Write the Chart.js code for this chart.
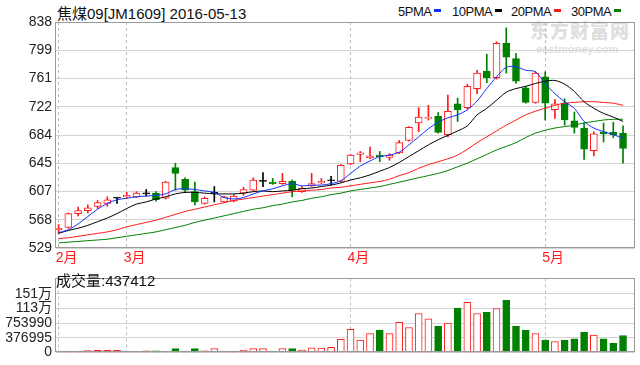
<!DOCTYPE html>
<html lang="zh">
<head>
<meta charset="UTF-8">
<title>焦煤09 日K线</title>
<script src="https://cdn.jsdelivr.net/npm/chart.js@4.4.1/dist/chart.umd.min.js"></script>
<style>
  body {
    margin: 0;
    width: 640px;
    height: 365px;
    overflow: hidden;
    position: relative;
    background: #fff;
    font-family: 'Liberation Sans', 'Noto Sans CJK SC', sans-serif;
    color: #111;
  }
  #kline { position: absolute; left: 0; top: 0; }
  #vol { position: absolute; left: 0; top: 266px; }
  .title { position: absolute; left: 57px; top: 2px; font-size: 15px; white-space: nowrap; }
  .leg { position: absolute; top: 4px; font-size: 13px; letter-spacing: -0.5px; white-space: nowrap; }
  .leg i { display: inline-block; width: 7px; height: 3px; margin-left: 3px; vertical-align: 4px; }
  .vol-label { position: absolute; left: 56px; top: 269px; font-size: 15px; white-space: nowrap; }
  .mark { position: absolute; left: 530px; top: 22px; color: rgba(160,160,160,0.35); font-weight: bold; line-height: 1; }
  .mark b { display: block; font-size: 19px; letter-spacing: 1px; }
  .mark span { display: block; font-size: 11px; margin-top: 3px; margin-left: 6px; }
</style>
</head>
<body>
  <div class="title">焦煤09[JM1609] 2016-05-13</div>
  <div class="leg" style="left:398px">5PMA<i style="background:#1030ff"></i></div>
  <div class="leg" style="left:452px">10PMA<i style="background:#000"></i></div>
  <div class="leg" style="left:511px">20PMA<i style="background:#ff1a1a"></i></div>
  <div class="leg" style="left:571px">30PMA<i style="background:#008000"></i></div>
  <div class="mark"><b>东方财富网</b><span>eastmoney.com</span></div>

  <canvas id="kline" width="640" height="266"></canvas>
  <canvas id="vol" width="640" height="99"></canvas>
  <div class="vol-label">成交量:437412</div>

<script>
// 交易日
const dates = [
  '02-19','02-22','02-23','02-24','02-25','02-26','02-29',
  '03-01','03-02','03-03','03-04','03-07','03-08','03-09','03-10','03-11','03-14','03-15','03-16',
  '03-17','03-18','03-21','03-22','03-23','03-24','03-25','03-28','03-29','03-30','03-31',
  '04-01','04-05','04-06','04-07','04-08','04-11','04-12','04-13','04-14','04-15','04-18','04-19',
  '04-20','04-21','04-22','04-25','04-26','04-27','04-28','04-29',
  '05-03','05-04','05-05','05-06','05-09','05-10','05-11','05-12','05-13'
];

// K线数据
const opens  = [554,557,576,580,586,590,597,599,599,603,604,597,639,623,606,590,604,592,593,604,
                608,620,619,617,620,606,614,618,621,620,644,657,652,656,653,659,676,700,706,709,
                684,726,721,747,771,762,809,788,748,728,763,718,727,703,693,662,688,687,686];
const highs  = [561,577,585,588,594,599,598,605,606,609,606,620,645,625,619,599,613,600,602,612,
                625,632,624,631,622,613,631,624,627,643,657,661,667,661,658,676,695,721,724,714,
                738,734,753,772,794,811,830,795,750,770,770,732,733,715,700,688,700,701,696];
const lows   = [549,556,573,577,583,586,590,597,598,600,593,596,608,605,588,589,592,591,592,601,
                607,613,616,616,599,605,613,617,615,619,643,647,651,647,649,658,675,688,704,686,
                681,702,719,740,755,760,768,754,727,727,704,706,697,686,650,655,674,680,645];
const closes = [556,576,580,584,591,595,597,601,604,603,595,619,631,608,592,597,604,599,600,609,
                622,620,617,620,608,611,617,620,621,642,656,659,655,654,656,673,694,708,708,687,
                716,718,750,768,762,809,790,757,728,768,727,726,704,694,664,685,685,684,665];

// 成交量
const volumes = [40000,40000,40000,50000,55000,55000,55000,30000,30000,45000,
                 45000,30000,100000,40000,100000,45000,100000,40000,40000,65000,
                 100000,100000,40000,100000,100000,65000,125000,115000,135000,338000,
                 596000,318000,487000,575000,487000,772000,643000,1002000,866000,677000,
                 758000,1137000,1286000,1002000,1029000,1130000,1340000,677000,575000,487000,
                 318000,284000,318000,352000,528000,447000,352000,237000,437412];

// 均线
const ma5  = [550,554,562,572,582,590,595,597,599,600,601,603,609,610,609,607,605,598,596,598,
              603,607,610,614,617,614,615,615,617,621,631,641,648,654,656,660,670,681,692,701,
              707,711,718,730,747,763,776,777,772,770,754,740,729,720,702,693,688,684,679];
const ma10 = [549,553,556,560,565,570,576,583,589,592,596,599,603,605,605,604,603,603,603,604,
              606,607,606,607,608,610,611,613,615,618,622,625,629,634,639,646,654,662,670,677,
              683,689,696,711,720,731,742,747,750,754,757,758,753,743,729,720,713,708,702];
const ma20 = [542,543,545,547,549,551,554,558,561,564,567,571,575,579,582,585,588,591,594,596,
              598,600,602,604,606,607,608,609,611,612,614,616,618,620,623,628,632,638,643,647,
              651,656,664,673,681,689,697,704,711,716,720,724,727,728,729,729,728,727,724];
const ma30 = [536,537,538,539,540,541,543,545,547,549,551,554,557,560,564,567,570,573,576,579,
              582,584,587,589,592,594,597,599,602,604,607,609,611,613,616,619,622,625,628,631,
              635,640,645,651,657,663,668,673,680,686,690,693,695,697,700,702,704,705,705];

// 坐标刻度
const priceTicks = ['529','568','607','645','684','722','761','799','838'];
const priceMin = 529, priceMax = 838;
const volTicks = ['0','376995','753990','113万','151万'];
const volStep = 376995;
const monthLabels = ['2月','3月','4月','5月'];

const RED = '#ff1a1a', GREEN = '#008000', BLACK = '#000';
const FONT = "'Liberation Sans', 'Noto Sans CJK SC', sans-serif";

// 月份分界
const monthIdx = dates.map((d, i) => i).filter(i => i === 0 || dates[i].slice(0, 2) !== dates[i - 1].slice(0, 2));

function dir(i) {
  if (closes[i] > opens[i]) return 1;
  if (closes[i] < opens[i]) return -1;
  return 0;
}
const lineColor = dates.map((d, i) => dir(i) > 0 ? RED : dir(i) < 0 ? GREEN : BLACK);
const bodyFill = dates.map((d, i) => dir(i) > 0 ? '#fff' : dir(i) < 0 ? GREEN : BLACK);

// 面板边框
const frame = {
  id: 'frame',
  afterDraw(chart) {
    const a = chart.chartArea, ctx = chart.ctx;
    ctx.save();
    ctx.strokeStyle = '#9a9a9a';
    ctx.lineWidth = 1;
    ctx.strokeRect(Math.round(a.left) - 0.5, Math.round(a.top) + 0.5,
                   Math.round(a.right - a.left), Math.round(a.bottom - a.top) - 1);
    ctx.restore();
  }
};

function xAxis(showLabels, height) {
  return {
    type: 'linear',
    min: -0.27,
    max: 59.23,
    offset: false,
    afterBuildTicks: s => { s.ticks = monthIdx.map(v => ({ value: v })); },
    afterFit: s => { s.height = height; },
    grid: { color: '#bdbdbd', drawTicks: false, offset: false },
    border: { display: false, dash: [3, 3] },
    ticks: {
      display: showLabels,
      autoSkip: false,
      maxRotation: 0,
      align: 'start',
      labelOffset: -3,
      padding: 2,
      color: RED,
      font: { size: 14, family: FONT },
      callback: (v, i) => monthLabels[i]
    }
  };
}

const pts = arr => arr.map((v, i) => ({ x: i, y: v }));

function maLine(arr, color) {
  return {
    type: 'line',
    data: pts(arr),
    borderColor: color,
    borderWidth: 1,
    pointRadius: 0,
    tension: 0.3,
    order: 0
  };
}

new Chart(document.getElementById('kline'), {
  type: 'bar',
  data: {
    datasets: [
      {
        // 影线
        data: dates.map((d, i) => ({ x: i, y: [lows[i], highs[i]] })),
        backgroundColor: lineColor,
        borderWidth: 0,
        barThickness: 1,
        grouped: false,
        order: 2
      },
      {
        // 实体
        data: dates.map((d, i) => ({ x: i, y: [opens[i], closes[i]] })),
        backgroundColor: bodyFill,
        borderColor: lineColor,
        borderWidth: 1,
        borderSkipped: false,
        barThickness: 7,
        minBarLength: 1,
        grouped: false,
        order: 1
      },
      maLine(ma5, '#1030ff'),
      maLine(ma10, BLACK),
      maLine(ma20, RED),
      maLine(ma30, GREEN)
    ]
  },
  options: {
    responsive: false,
    animation: false,
    events: [],
    layout: { padding: { top: 22, right: 5, left: 0, bottom: 0 } },
    plugins: { legend: { display: false }, tooltip: { enabled: false } },
    scales: {
      x: xAxis(true, 18),
      y: {
        min: priceMin,
        max: priceMax,
        afterBuildTicks: s => {
          s.ticks = priceTicks.map((t, i) => ({ value: priceMin + i * (priceMax - priceMin) / (priceTicks.length - 1) }));
        },
        afterFit: s => { s.width = 56; },
        grid: { color: '#d4d4d4', drawTicks: false },
        border: { display: false },
        ticks: {
          padding: 4,
          color: '#222',
          font: { size: 14, family: FONT },
          callback: (v, i) => priceTicks[i]
        }
      }
    }
  },
  plugins: [frame]
});

new Chart(document.getElementById('vol'), {
  type: 'bar',
  data: {
    datasets: [{
      data: pts(volumes),
      backgroundColor: dates.map((d, i) => dir(i) < 0 ? GREEN : '#fff'),
      borderColor: dates.map((d, i) => dir(i) < 0 ? GREEN : RED),
      borderWidth: 1,
      borderSkipped: false,
      barThickness: 7,
      grouped: false
    }]
  },
  options: {
    responsive: false,
    animation: false,
    events: [],
    layout: { padding: { top: 1, right: 5, left: 0, bottom: 0 } },
    plugins: { legend: { display: false }, tooltip: { enabled: false } },
    scales: {
      x: xAxis(false, 6),
      y: {
        min: 0,
        max: volStep * 5.04,
        afterBuildTicks: s => { s.ticks = volTicks.map((t, i) => ({ value: i * volStep })); },
        afterFit: s => { s.width = 56; },
        grid: { color: '#d4d4d4', drawTicks: false },
        border: { display: false },
        ticks: {
          padding: 4,
          color: '#222',
          font: { size: 14, family: FONT },
          callback: (v, i) => volTicks[i]
        }
      }
    }
  },
  plugins: [frame]
});
</script>
</body>
</html>
